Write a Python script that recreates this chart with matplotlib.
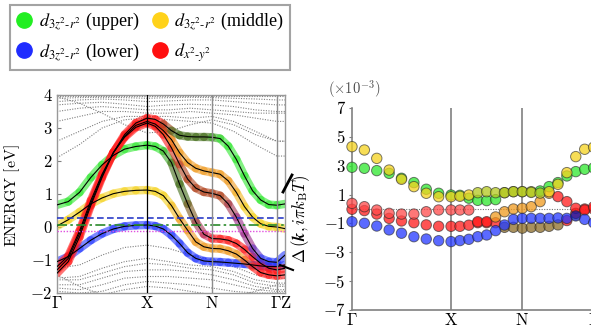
import numpy as np
import matplotlib.pyplot as plt
from matplotlib.collections import LineCollection
from matplotlib.lines import Line2D
from matplotlib.colors import to_rgb

plt.rcParams['font.family'] = ['Liberation Serif', 'DejaVu Serif']
plt.rcParams['mathtext.fontset'] = 'cm'

# ---------- 1. k-path ----------
k_names = [r'$\Gamma$', r'$\mathrm{X}$', r'$\mathrm{N}$', r'$\Gamma\mathrm{Z}$']
k_ticks = [0.0, 1.0, 1.72, 2.44, 2.53]

# sample points: 9 on G-X, 8 more to N, 8 more to G, then Z
k_band = np.concatenate([np.linspace(0, 1, 9), np.linspace(1, 1.72, 9)[1:],
                         np.linspace(1.72, 2.44, 9)[1:], [2.53]])
k_gap = k_band[:-1]
k_gray = [0, 0.25, 0.5, 0.75, 1.0, 1.24, 1.48, 1.72, 1.96, 2.2, 2.44, 2.53]

# ---------- 2. fat bands (eV) + orbital colour code per point ----------
band_1 = [-1.4, -1.05, -0.3, 0.65, 1.5, 2.25, 2.8, 3.15, 3.3,
          3.26, 3.12, 2.92, 2.78, 2.74, 2.73, 2.73, 2.72,
          2.68, 2.45, 2.05, 1.55, 1.1, 0.82, 0.68, 0.66, 0.70]
band_2 = [-1.3, -0.95, -0.2, 0.72, 1.55, 2.25, 2.75, 3.08, 3.2,
          3.12, 2.92, 2.65, 2.25, 1.95, 1.78, 1.70, 1.65,
          1.6, 1.4, 1.05, 0.62, 0.3, 0.1, 0.02, 0.0, -0.05]
band_3 = [-1.2, -0.88, -0.12, 0.8, 1.6, 2.25, 2.72, 3.02, 3.15,
          3.05, 2.8, 2.4, 1.9, 1.45, 1.18, 1.06, 1.02,
          0.95, 0.7, 0.3, -0.2, -0.65, -0.95, -1.05, -1.07, -0.85]
band_4 = [0.67, 0.77, 1.05, 1.5, 1.88, 2.17, 2.36, 2.44, 2.48,
          2.44, 2.3, 1.95, 1.3, 0.7, 0.15, -0.22, -0.35,
          -0.36, -0.4, -0.5, -0.68, -0.9, -1.1, -1.25, -1.3, -1.25]
band_5 = [0.03, 0.22, 0.45, 0.7, 0.88, 1.01, 1.08, 1.11, 1.12,
          1.08, 0.95, 0.65, 0.25, -0.1, -0.45, -0.6, -0.65,
          -0.66, -0.72, -0.82, -1.0, -1.2, -1.38, -1.45, -1.48, -1.45]
band_6 = [-1.05, -0.9, -0.65, -0.4, -0.2, -0.06, 0.02, 0.05, 0.06,
          0.03, -0.06, -0.25, -0.5, -0.78, -0.95, -1.03, -1.05,
          -1.06, -1.08, -1.1, -1.12, -1.15, -1.18, -1.2, -1.2, -1.15]
band_col_1 = "rrrrrrrrr" + "rrdddddd" + "gggggggg" + "g"
band_col_2 = "rrrrrrrrr" + "rroooooo" + "oooyyyyy" + "y"
band_col_3 = "rrrrrrrrr" + "rrrnnnnn" + "nnmmmbbb" + "b"
band_col_4 = "ggggggggg" + "ggdddnmr" + "rrrrrrrr" + "r"
band_col_5 = "yyyyyyyyy" + "yyyooooo" + "oooorrrr" + "r"
band_col_6 = "bbbbbbbbb" + "bbbbbbbb" + "bbbbbbbb" + "b"

# other (non eg) bands, dotted grey
gray_bands = [
    [3.97, 3.97, 3.97, 3.97, 3.97, 3.97, 3.97, 3.97, 3.97, 3.97, 3.97, 3.97],
    [3.9, 3.92, 3.93, 3.92, 3.9, 3.92, 3.93, 3.92, 3.9, 3.88, 3.85, 3.85],
    [3.8, 3.85, 3.88, 3.85, 3.8, 3.82, 3.85, 3.85, 3.8, 3.75, 3.7, 3.7],
    [3.7, 3.75, 3.78, 3.72, 3.65, 3.7, 3.72, 3.7, 3.65, 3.55, 3.5, 3.5],
    [3.5, 3.6, 3.65, 3.6, 3.55, 3.55, 3.6, 3.55, 3.5, 3.45, 3.45, 3.45],
    [3.2, 3.35, 3.5, 3.5, 3.45, 3.45, 3.5, 3.45, 3.4, 3.3, 3.2, 3.2],
    [2.6, 2.9, 3.2, 3.35, 3.35, 3.35, 3.3, 3.35, 3.2, 2.9, 2.6, 2.6],
    [2.1, 2.5, 3.0, 3.25, 3.3, 3.25, 3.2, 3.15, 2.9, 2.5, 2.15, 2.15],
    [3.95, 3.75, 3.45, 3.1, 2.85, 2.9, 3.1, 3.25, 3.1, 2.8, 2.6, 2.6],
    [-1.25, -1.15, -0.85, -0.62, -0.55, -0.65, -0.85, -1.0, -1.2, -1.45, -1.55, -1.55],
    [-1.55, -1.5, -1.25, -1.05, -0.95, -1.05, -1.15, -1.2, -1.35, -1.6, -1.7, -1.7],
    [-1.6, -1.6, -1.4, -1.2, -1.1, -1.15, -1.25, -1.3, -1.45, -1.7, -1.8, -1.8],
    [-1.75, -1.75, -1.55, -1.35, -1.3, -1.3, -1.35, -1.45, -1.6, -1.8, -1.9, -1.9],
    [-1.85, -1.9, -1.75, -1.55, -1.5, -1.5, -1.55, -1.6, -1.75, -1.9, -1.95, -1.95],
    [-1.95, -2.0, -1.95, -1.75, -1.65, -1.7, -1.75, -1.85, -1.95, -2.0, -2.0, -2.0],
    [-1.45, -1.8, -2.05, -1.9, -1.8, -1.85, -1.95, -2.05, -2.1, -1.95, -1.75, -1.75],
]

# reference levels (eV)
level_blue, level_green, level_pink = 0.27, 0.07, -0.13

# ---------- 3. gap function (x1e-3) ----------
gap_yellow = [4.32, 4.09, 3.51, 2.70, 2.06, 1.55, 1.09, 0.85, 0.85,
              0.88, 0.97, 1.13, 1.2, 1.13, 1.13, 1.2, 1.2,
              1.15, 1.1, 1.2, 1.71, 2.52, 3.63, 4.14, 4.28]
gap_green = [2.89, 2.82, 2.66, 2.47, 2.13, 1.83, 1.37, 1.09, 0.97,
             0.95, 0.75, 0.6, 0.58, 0.65, 1.13, 1.2, 1.2,
             1.2, 1.25, 1.55, 1.83, 2.29, 2.59, 2.75, 2.85]
gap_blue = [-0.88, -0.99, -1.18, -1.45, -1.68, -1.92, -2.08, -2.2, -2.26,
            -2.19, -2.1, -1.92, -1.8, -1.5, -1.11, -0.72, -0.65,
            -0.65, -0.65, -0.65, -0.62, -0.65, -0.48, -0.72, -0.95]
gap_red1 = [0.39, 0.16, -0.07, -0.3, -0.35, -0.35, -0.19, -0.07, -0.07,
            -0.07, -0.07, -0.88, -0.88, -0.55, -0.19, 0.0, 0.05,
            0.16, 0.51, 1.09, 0.86, 0.51, 0.05, -0.07, 0.15]
gap_red2 = [-0.02, -0.11, -0.35, -0.65, -0.83, -0.95, -1.1, -1.2, -1.2,
            -1.2, -1.12, -0.95, -0.95, -0.95, -1.27, -1.27, -1.33,
            -1.27, -1.27, -1.2, -1.1, -0.8, -0.3, 0.0, 0.0]
gap_col_yellow = "yyyyyyyyy" + "yyllllll" + "llyyyyyy"
gap_col_green = "ggggggggg" + "ggggglll" + "lggggggg"
gap_col_blue = "bbbbbbbbb" + "bbbbbbbb" + "bbbbbBbb"
gap_col_red1 = "ppppppppp" + "pprroooo" + "ooorrrrr"
gap_col_red2 = "rrrrrrrrr" + "rrrrrxxx" + "xxxxrrrr"

gap_ticks = [-7, -5, -3, -1, 1, 3, 5, 7]
energy_ticks = [-2, -1, 0, 1, 2, 3, 4]

palette = {'r': '#ff1a1a', 'p': '#ff4a4a', 'g': '#2ee82e', 'y': '#f5d21e',
           'l': '#b4c81e', 'b': '#2438ff', 'B': '#0818b0', 'o': '#f09a1e',
           'd': '#3f6a14', 'n': '#b0401a', 'm': '#9a2a8a', 'x': '#8c6c28'}

legend_names = [r'$d_{3z^2\text{-}r^2}$ (upper)', r'$d_{3z^2\text{-}r^2}$ (lower)',
                r'$d_{3z^2\text{-}r^2}$ (middle)', r'$d_{x^2\text{-}y^2}$']
legend_cols = ['#22ee22', '#1f2cff', '#ffd21a', '#ff0f0f']

# ---------- 4. figure ----------
fig = plt.figure(figsize=(5.91, 3.33), dpi=100)
ax1 = fig.add_axes([57/591, 1-293/333, 228/591, 198/333])
ax2 = fig.add_axes([352/591, 1-310/333, 241.6/591, 202/333])

# left panel: band structure
for g in gray_bands:
    ax1.plot(k_gray, g, color='0.5', lw=0.8, ls=(0, (1, 1.3)), zorder=1)

bands = [(band_6, band_col_6), (band_5, band_col_5), (band_4, band_col_4),
         (band_3, band_col_3), (band_2, band_col_2), (band_1, band_col_1)]
for e, cc in bands:
    pts = np.column_stack([k_band, e])
    segs = np.stack([pts[:-1], pts[1:]], axis=1)
    rgb = [to_rgb(palette[c]) for c in cc]
    seg_cols = [tuple((np.array(rgb[i]) + np.array(rgb[i+1])) / 2) + (0.6,) for i in range(len(rgb)-1)]
    ax1.add_collection(LineCollection(segs, colors=seg_cols, linewidths=6.0,
                                      capstyle='round', zorder=2))
for e, cc in bands:
    ax1.plot(k_band, e, color='black', lw=0.8, zorder=3)

ax1.axhline(level_blue, color='#2a3cc8', lw=1.2, ls=(0, (4, 2)), zorder=4)
ax1.axhline(level_green, color='#2a8a2a', lw=1.2, ls=(0, (6, 2, 1.5, 2)), zorder=4)
ax1.axhline(level_pink, color='#e050e0', lw=1.0, ls=(0, (1, 1.2)), zorder=4)

ax1.axvline(k_ticks[1], color='black', lw=0.9, zorder=5)
ax1.axvline(k_ticks[2], color='0.55', lw=1.0, zorder=5)
ax1.axvline(k_ticks[3], color='0.55', lw=1.0, zorder=5)

ax1.set_xlim(0, k_ticks[-1])
ax1.set_ylim(-2, 4)
ax1.set_yticks(energy_ticks)
ax1.set_yticklabels([f'${v}$' for v in energy_ticks], fontsize=12)
ax1.set_xticks(k_ticks[:3] + [(k_ticks[3] + k_ticks[4]) / 2])
ax1.set_xticklabels(k_names, fontsize=12)
ax1.tick_params(axis='x', length=0, pad=2)
ax1.tick_params(axis='y', direction='in', length=3, color='0.5', pad=3)
for s in ax1.spines.values():
    s.set_color('0.6')
    s.set_linewidth(1.0)
ax1.set_ylabel(r'$\mathrm{ENERGY\ [eV]}$', fontsize=11.5)
ax1.yaxis.set_label_coords(-0.155, 0.49)

# right panel: gap function
ax2.axhline(0, color='0.45', lw=0.8, ls=(0, (1, 1.3)), zorder=1)
ax2.axvline(k_ticks[1], color='0.5', lw=1.2, zorder=1)
ax2.axvline(k_ticks[2], color='0.5', lw=1.2, zorder=1)

series = [(gap_red2, gap_col_red2), (gap_red1, gap_col_red1), (gap_blue, gap_col_blue),
          (gap_green, gap_col_green), (gap_yellow, gap_col_yellow)]
for v, cc in series:
    fc = [to_rgb(palette[c]) + (0.75,) for c in cc]
    ax2.scatter(k_gap, v, s=56, c=fc, edgecolors=(0.15, 0.15, 0.15, 0.6),
                linewidths=0.7, zorder=3, clip_on=False)

ax2.set_xlim(0, k_ticks[3])
ax2.set_ylim(-7, 7)
ax2.set_yticks(gap_ticks)
ax2.set_yticklabels([f'${v}$' for v in gap_ticks], fontsize=12)
ax2.set_xticks(k_ticks[:4])
ax2.set_xticklabels([r'$\Gamma$', r'$\mathrm{X}$', r'$\mathrm{N}$', r'$\Gamma$'], fontsize=12)
ax2.tick_params(axis='x', length=0, pad=2)
ax2.tick_params(axis='y', direction='out', length=2.5, color='0.5', pad=2)
ax2.spines['top'].set_visible(False)
ax2.spines['right'].set_visible(False)
for s in ['left', 'bottom']:
    ax2.spines[s].set_color('0.5')
    ax2.spines[s].set_linewidth(1.2)
ax2.set_ylabel(r'$\Delta\,(\mathbfit{k}, i\pi k_{\mathrm{B}}T)$', fontsize=12)
ax2.yaxis.set_label_coords(-0.165, 0.45)
ax2.text(-0.1, 1.095, r'$(\times 10^{-3})$', transform=ax2.transAxes,
         fontsize=10.5, color='0.3', ha='left', va='center')

# decorative arrows cropped from the original figure
fig.add_artist(Line2D([283/591, 292/591], [1-192/333, 1-175/333], color='black', lw=2))
fig.add_artist(Line2D([280/591, 293/591], [1-265/333, 1-270/333], color='black', lw=1.5))

# legend
handles = [Line2D([], [], marker='o', ls='none', markersize=11, markerfacecolor=c,
                  markeredgecolor=c) for c in legend_cols]
leg = fig.legend(handles, legend_names, loc='upper left', ncol=2,
                 bbox_to_anchor=(10/591, 1-5/333), fontsize=13,
                 frameon=True, fancybox=False, edgecolor='0.55',
                 borderpad=0.35, labelspacing=0.5, handlelength=0.9,
                 handletextpad=0.35, columnspacing=0.7, borderaxespad=0)
leg.get_frame().set_linewidth(1.5)
for t in leg.get_texts():
    t.set_math_fontfamily('stix')

fig.savefig('out.png', dpi=100)
